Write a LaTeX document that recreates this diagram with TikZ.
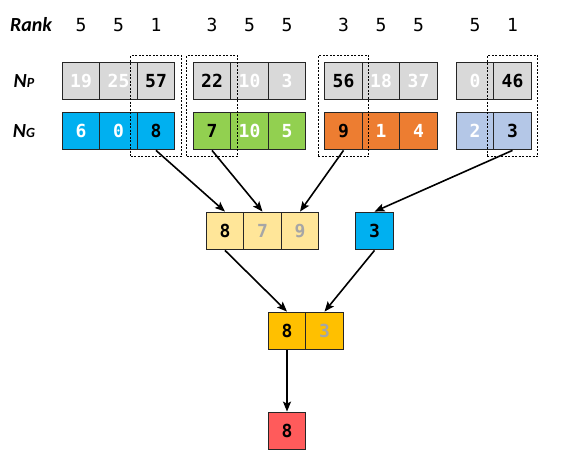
\documentclass[tikz,border=0pt]{standalone}
\usepackage{fontspec}
\setmonofont{DejaVu Sans Mono}
\newfontfamily\labelfont{Carlito}
\usetikzlibrary{arrows.meta,fit}
\definecolor{cgray}{HTML}{D9D9D9}
\definecolor{cblue}{HTML}{00B0F0}
\definecolor{cgreen}{HTML}{92D050}
\definecolor{corange}{HTML}{ED7D31}
\definecolor{clblue}{HTML}{B4C7E7}
\definecolor{cyellow}{HTML}{FFE699}
\definecolor{cgold}{HTML}{FFC000}
\definecolor{cred}{HTML}{FF5B5B}
\definecolor{cline}{HTML}{262626}
\definecolor{cfaded}{HTML}{A6A6A6}
\tikzset{
  cell/.style={draw=cline, line width=1.3pt, minimum width=37.5pt, minimum height=37.5pt,
    inner sep=0pt, font=\ttfamily\bfseries\fontsize{18}{18}\selectfont},
  off/.style={text=white},
  faded/.style={text=cfaded},
  rank/.style={font=\ttfamily\fontsize{18}{18}\selectfont},
  rowlabel/.style={font=\labelfont\bfseries\itshape\fontsize{20}{20}\selectfont},
  selbox/.style={draw, dashed, dash pattern=on 2pt off 1.5pt, line width=0.9pt, inner xsep=6pt, inner ysep=6pt},
  link/.style={-{Stealth[length=10pt,width=8pt,inset=2pt]}, line width=1.6pt}
}
\begin{document}
\begin{tikzpicture}[x=1pt,y=-1pt]
  \useasboundingbox (0,0) rectangle (572,462);

  % labels on the left
  \node[rowlabel] (lrank) at (31,25) {Rank};
  \node[rowlabel] (lnp) at (24,81) {N{\fontsize{14}{14}\selectfont P}};
  \node[rowlabel] (lng) at (24,131) {N{\fontsize{14}{14}\selectfont G}};

  % ranks
  \node[rank] (r11) at (81,25) {5};
  \node[rank] (r12) at (118.5,25) {5};
  \node[rank] (r13) at (156,25) {1};
  \node[rank] (r21) at (212,25) {3};
  \node[rank] (r22) at (249.5,25) {5};
  \node[rank] (r23) at (287,25) {5};
  \node[rank] (r31) at (343.5,25) {3};
  \node[rank] (r32) at (381,25) {5};
  \node[rank] (r33) at (418.5,25) {5};
  \node[rank] (r41) at (475,25) {5};
  \node[rank] (r42) at (512.5,25) {1};

  % N_P row
  \node[cell, fill=cgray, off] (np11) at (81,81) {19};
  \node[cell, fill=cgray, off] (np12) at (118.5,81) {25};
  \node[cell, fill=cgray] (np13) at (156,81) {57};
  \node[cell, fill=cgray] (np21) at (212,81) {22};
  \node[cell, fill=cgray, off] (np22) at (249.5,81) {10};
  \node[cell, fill=cgray, off] (np23) at (287,81) {3};
  \node[cell, fill=cgray] (np31) at (343.5,81) {56};
  \node[cell, fill=cgray, off] (np32) at (381,81) {18};
  \node[cell, fill=cgray, off] (np33) at (418.5,81) {37};
  \node[cell, fill=cgray, off] (np41) at (475,81) {0};
  \node[cell, fill=cgray] (np42) at (512.5,81) {46};

  % N_G row
  \node[cell, fill=cblue, off] (ng11) at (81,131) {6};
  \node[cell, fill=cblue, off] (ng12) at (118.5,131) {0};
  \node[cell, fill=cblue] (ng13) at (156,131) {8};
  \node[cell, fill=cgreen] (ng21) at (212,131) {7};
  \node[cell, fill=cgreen, off] (ng22) at (249.5,131) {10};
  \node[cell, fill=cgreen, off] (ng23) at (287,131) {5};
  \node[cell, fill=corange] (ng31) at (343.5,131) {9};
  \node[cell, fill=corange, off] (ng32) at (381,131) {1};
  \node[cell, fill=corange, off] (ng33) at (418.5,131) {4};
  \node[cell, fill=clblue, off] (ng41) at (475,131) {2};
  \node[cell, fill=clblue] (ng42) at (512.5,131) {3};

  % selected columns
  \node[selbox, fit=(np13)(ng13)] (sel1) {};
  \node[selbox, fit=(np21)(ng21)] (sel2) {};
  \node[selbox, fit=(np31)(ng31)] (sel3) {};
  \node[selbox, fit=(np42)(ng42)] (sel4) {};

  % merge steps
  \node[cell, fill=cyellow] (ma1) at (225,231) {8};
  \node[cell, fill=cyellow, faded] (ma2) at (262.5,231) {7};
  \node[cell, fill=cyellow, faded] (ma3) at (300,231) {9};
  \node[cell, fill=cblue] (mb1) at (374.5,231) {3};
  \node[cell, fill=cgold] (mc1) at (287,331) {8};
  \node[cell, fill=cgold, faded] (mc2) at (324.5,331) {3};
  \node[cell, fill=cred] (top) at (287,431) {8};

  \draw[link] (ng13.south) -- (ma1.north);
  \draw[link] (ng21.south) -- (ma2.north);
  \draw[link] (ng31.south) -- (ma3.north);
  \draw[link] (ng42.south) -- (mb1.north);
  \draw[link] (ma1.south) -- (mc1.north);
  \draw[link] (mb1.south) -- (mc2.north);
  \draw[link] (mc1.south) -- (top.north);
\end{tikzpicture}
\end{document}
